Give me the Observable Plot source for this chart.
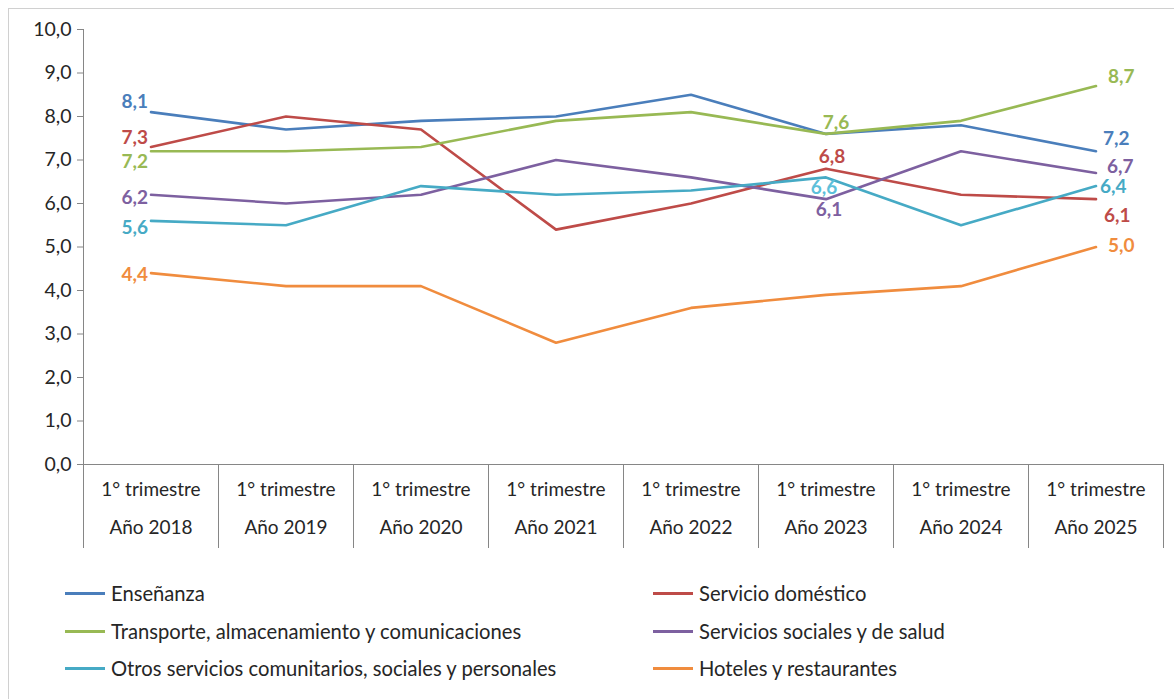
<!DOCTYPE html>
<html>
<head>
<meta charset="utf-8">
<script src="https://cdn.jsdelivr.net/npm/d3@7"></script>
<script src="https://cdn.jsdelivr.net/npm/@observablehq/plot@0.6"></script>
<style>
  html, body { margin: 0; padding: 0; background: #fff; width: 1174px; height: 699px; overflow: hidden; }
  body { font-family: Lato, "Open Sans", sans-serif; color: #262626; position: relative; }
  #frame { position: absolute; left: 8px; top: 8px; width: 1180px; height: 720px; border: 1px solid #d0d0d0; box-sizing: border-box; }
  #chart { position: absolute; left: 0; top: 0; }
  .leg { position: absolute; display: flex; align-items: center; font-size: 20.2px; color: #262626; white-space: nowrap; }
  .leg .sw { width: 40px; height: 3px; margin-right: 6px; }
</style>
</head>
<body>
<div id="frame"></div>
<div id="chart"></div>
<div id="legend"></div>
<script>
// ---- data ----
const years = ["Año 2018", "Año 2019", "Año 2020", "Año 2021", "Año 2022", "Año 2023", "Año 2024", "Año 2025"];
const quarterLabel = "1° trimestre";
const seriesNames = [
  "Enseñanza",
  "Servicio doméstico",
  "Transporte, almacenamiento y comunicaciones",
  "Servicios sociales y de salud",
  "Otros servicios comunitarios, sociales y personales",
  "Hoteles y restaurantes"
];
const seriesColors = ["#4a7ebb", "#be4b48", "#98b954", "#7d60a0", "#46aac5", "#f08c3e"];
const ensenanza      = [8.1, 7.7, 7.9, 8.0, 8.5, 7.6, 7.8, 7.2];
const servDomestico  = [7.3, 8.0, 7.7, 5.4, 6.0, 6.8, 6.2, 6.1];
const transporte     = [7.2, 7.2, 7.3, 7.9, 8.1, 7.6, 7.9, 8.7];
const servSociales   = [6.2, 6.0, 6.2, 7.0, 6.6, 6.1, 7.2, 6.7];
const otrosServicios = [5.6, 5.5, 6.4, 6.2, 6.3, 6.6, 5.5, 6.4];
const hoteles        = [4.4, 4.1, 4.1, 2.8, 3.6, 3.9, 4.1, 5.0];
const yTicks = [0, 1, 2, 3, 4, 5, 6, 7, 8, 9, 10];
// labelled points: [series index, year index]
const labelled = [
  [0,0],[1,0],[2,0],[3,0],[4,0],[5,0],
  [2,5],[1,5],[4,5],[3,5],
  [2,7],[0,7],[3,7],[4,7],[1,7],[5,7]
];

// ---- build ----
const valuesBySeries = [ensenanza, servDomestico, transporte, servSociales, otrosServicios, hoteles];
const tidy = [];
valuesBySeries.forEach((vals, s) => vals.forEach((v, i) => tidy.push({series: seriesNames[s], year: years[i], value: v})));
const fmt = v => v.toFixed(1).replace(".", ",");

const W = 1174, H = 560, mL = 83, mR = 11, mT = 29, mB = 96;
const bw = (W - mL - mR) / years.length;
const pxPerUnit = (H - mT - mB) / 10;
const sepBottom = -84 / pxPerUnit; // separators below the axis, in y units

// label placement style (dx, dy, anchor) per labelled point
const placeStyle = {
  "0,0": [-3, -10, "end"], "1,0": [-3, -9, "end"], "2,0": [-3, 11, "end"],
  "3,0": [-3, 3, "end"], "4,0": [-3, 7, "end"], "5,0": [-3, 2, "end"],
  "2,5": [10, -11, "middle"], "1,5": [6, -12, "middle"], "4,5": [-2, 11, "middle"], "3,5": [3, 11, "middle"],
  "2,7": [12, -9, "start"], "0,7": [7, -12, "start"], "3,7": [11, -6, "start"],
  "4,7": [4, 1, "start"], "1,7": [8, 17, "start"], "5,7": [12, -1, "start"]
};
const labelColors = {4: "#5cc0da"};

const axisColor = "#868686";
const labelMarks = labelled.map(([s, i]) => {
  const [dx, dy, anchor] = placeStyle[s + "," + i];
  return Plot.text([{year: years[i], value: valuesBySeries[s][i]}], {
    x: "year", y: "value", text: d => fmt(d.value),
    fill: (s === 4 && i === 5) ? labelColors[4] : seriesColors[s],
    fontWeight: "bold", fontSize: 19, dx, dy, textAnchor: anchor
  });
});

const chart = Plot.plot({
  width: W, height: H,
  marginLeft: mL, marginRight: mR, marginTop: mT, marginBottom: mB,
  style: {fontFamily: "Lato, 'Open Sans', sans-serif", fontSize: "19px", color: "#262626", background: "transparent", overflow: "visible"},
  x: {type: "band", domain: years, padding: 0, axis: null},
  y: {domain: [0, 10], axis: null, label: null},
  color: {domain: seriesNames, range: seriesColors},
  marks: [
    // y axis line
    Plot.ruleX([years[0]], {x: d => d, dx: -bw / 2, y1: 10, y2: 0, stroke: axisColor}),
    // separators below the x axis
    Plot.ruleX(years, {x: d => d, dx: -bw / 2, y1: 0, y2: sepBottom, stroke: axisColor}),
    Plot.ruleX([years[years.length - 1]], {x: d => d, dx: bw / 2, y1: 0, y2: sepBottom, stroke: axisColor}),
    Plot.ruleY([0], {stroke: axisColor}),
    Plot.axisY(yTicks, {label: null, tickSize: 6, tickPadding: 6, stroke: axisColor, strokeOpacity: 1, tickFormat: fmt, fill: "#262626", fontSize: 19.5}),
    Plot.text(years, {x: d => d, text: () => quarterLabel, frameAnchor: "bottom", dy: 31, fill: "#262626", fontSize: 19}),
    Plot.text(years, {x: d => d, text: d => d, frameAnchor: "bottom", dy: 69, fill: "#262626", fontSize: 19}),
    Plot.line(tidy, {x: "year", y: "value", z: "series", stroke: "series", strokeWidth: 2.6}),
    ...labelMarks
  ]
});
document.getElementById("chart").appendChild(chart);

// legend
const legendPos = [
  [65, 593], [653, 593],
  [65, 631], [653, 631],
  [65, 668], [653, 668]
];
const legend = document.getElementById("legend");
seriesNames.forEach((name, i) => {
  const el = document.createElement("div");
  el.className = "leg";
  el.style.left = legendPos[i][0] + "px";
  el.style.top = (legendPos[i][1] - 12) + "px";
  el.style.height = "24px";
  const sw = document.createElement("span");
  sw.className = "sw";
  sw.style.background = seriesColors[i];
  const tx = document.createElement("span");
  tx.textContent = name;
  el.appendChild(sw); el.appendChild(tx);
  legend.appendChild(el);
});
</script>
</body>
</html>
